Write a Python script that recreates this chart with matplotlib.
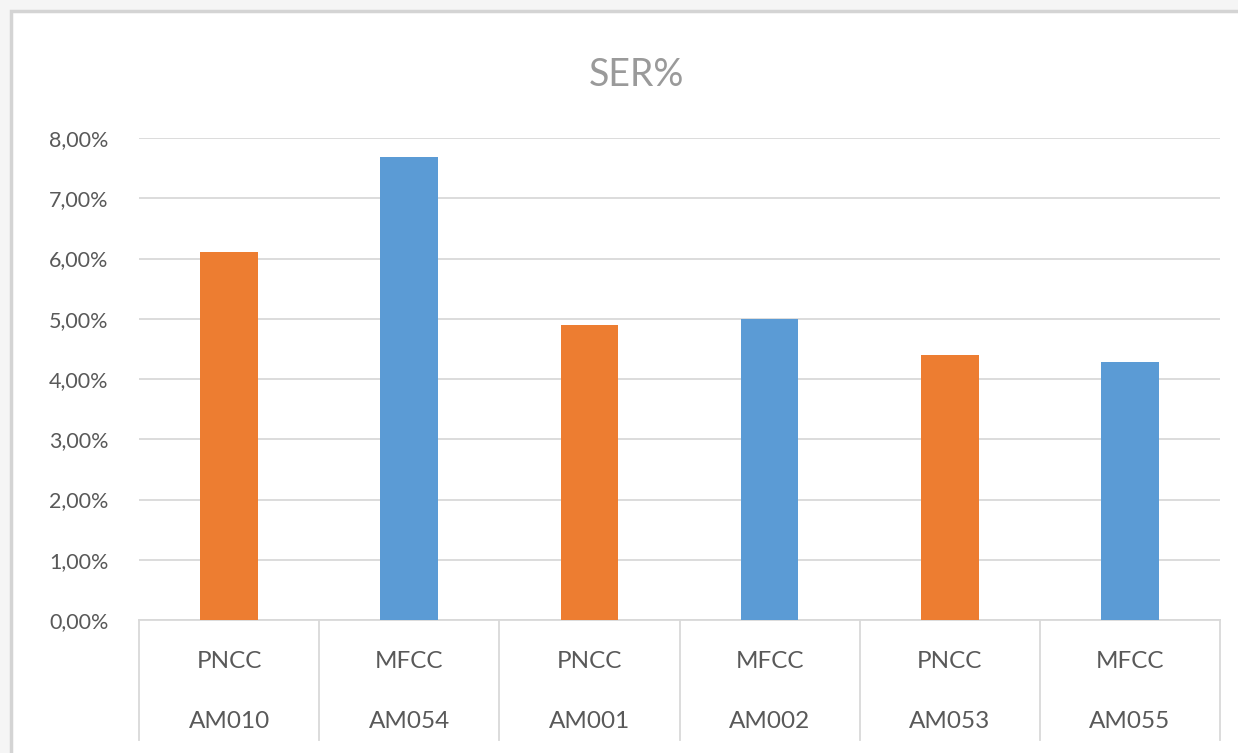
import matplotlib
matplotlib.use("Agg")
import matplotlib.pyplot as plt
import matplotlib.transforms as mtransforms
from matplotlib.patches import Rectangle
import numpy as np

# SER% per speaker / feature type
speakers = ['AM010', 'AM054', 'AM001', 'AM002', 'AM053', 'AM055']
features = ['PNCC', 'MFCC', 'PNCC', 'MFCC', 'PNCC', 'MFCC']
ser = [6.11, 7.68, 4.90, 5.00, 4.40, 4.29]
yticks = [0, 1, 2, 3, 4, 5, 6, 7, 8]

colors = {'PNCC': '#ED7D31', 'MFCC': '#5B9BD5'}
text_col = '#595959'
grid_col = '#d9d9d9'

plt.rcParams['font.family'] = ['Lato', 'DejaVu Sans']

W, H = 1238, 753
fig = plt.figure(figsize=(W / 100, H / 100), dpi=100)
fig.patch.set_facecolor('#f5f5f5')

# chart frame (white panel with light border), kept behind the axes
frame = Rectangle((11 / W, -0.01), 1 - 11 / W + 0.01, 1 - 11 / H + 0.01, transform=fig.transFigure,
                  facecolor='white', edgecolor='#d4d4d4', linewidth=2.5, zorder=-5)
fig.patches.append(frame)

left, right, top, bottom = 139, 1220, 138, 620
ax = fig.add_axes([left / W, 1 - bottom / H, (right - left) / W, (bottom - top) / H])
ax.set_facecolor('none')

x = np.arange(len(ser))
bar_colors = [colors[f] for f in features]
ax.bar(x, ser, width=0.32, color=bar_colors, zorder=3)

ax.set_xlim(-0.5, len(ser) - 0.5)
ax.set_ylim(0, 8)
ax.set_yticks(yticks)
ax.set_yticklabels(['{:.2f}%'.format(v).replace('.', ',') for v in yticks],
                   fontsize=15.5, color=text_col)
ax.tick_params(axis='y', length=0, pad=22)
ax.set_xticks([])
ax.grid(axis='y', color=grid_col, linewidth=1.3, zorder=0)
for s in ['top', 'right', 'left']:
    ax.spines[s].set_visible(False)
ax.spines['bottom'].set_color(grid_col)
ax.spines['bottom'].set_linewidth(1.3)

# two-level category axis with separators
trans = mtransforms.blended_transform_factory(ax.transData, ax.transAxes)
sep_bottom = (bottom - 740) / (bottom - top)
for b in np.arange(-0.5, len(ser), 1.0):
    ax.plot([b, b], [0, sep_bottom], color=grid_col, linewidth=1.3,
            transform=trans, clip_on=False)
y_feat = (bottom - 661) / (bottom - top)
y_spk = (bottom - 722) / (bottom - top)
for i in x:
    ax.text(i, y_feat, features[i], transform=trans, ha='center', va='center',
            fontsize=17.5, color=text_col)
    ax.text(i, y_spk, speakers[i], transform=trans, ha='center', va='center',
            fontsize=17.5, color=text_col)

fig.text(636 / W, 1 - 75 / H, 'SER%', ha='center', va='center', fontsize=27, color='#9a9a9a')

fig.savefig('out.png', dpi=100)
